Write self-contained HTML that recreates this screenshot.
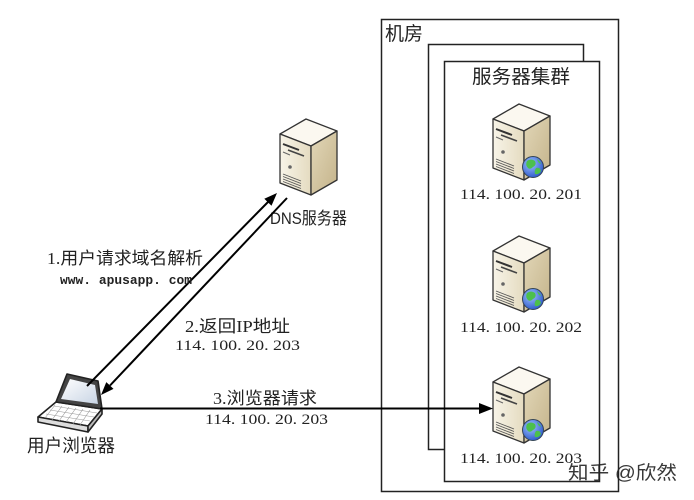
<!DOCTYPE html>
<html><head><meta charset="utf-8"><style>
html,body{margin:0;padding:0;background:#fff;}
svg{display:block;}
text{font-family:"Liberation Serif","Noto Sans CJK SC",serif;fill:#222;}
.cjk{font-family:"Liberation Sans","Noto Sans CJK SC",sans-serif;}
.mono{font-family:"Liberation Mono","Noto Sans CJK SC",monospace;}
</style></head><body>
<svg width="694" height="500" viewBox="0 0 694 500" xmlns="http://www.w3.org/2000/svg">
<defs>
<linearGradient id="gFront" x1="0" y1="0" x2="1" y2="0">
<stop offset="0" stop-color="#f8f4e8"/><stop offset="1" stop-color="#e4dbc0"/></linearGradient>
<linearGradient id="gSide" x1="0" y1="0" x2="1" y2="1">
<stop offset="0" stop-color="#e2d7b8"/><stop offset="1" stop-color="#c4b38a"/></linearGradient>
<radialGradient id="gGlobe" cx="0.4" cy="0.35" r="0.7">
<stop offset="0" stop-color="#9fc4ff"/><stop offset="1" stop-color="#2a55c8"/></radialGradient>
<linearGradient id="gScreen" x1="0" y1="0" x2="1" y2="1">
<stop offset="0" stop-color="#ffffff"/><stop offset="1" stop-color="#c8d4e4"/></linearGradient>
<g id="srv">
<polygon points="0,15 26,0 57,12 31,27" fill="#fbf8f0" stroke="#333" stroke-width="1.3" stroke-linejoin="round"/>
<polygon points="0,15 31,27 31,76 0,64" fill="url(#gFront)" stroke="#333" stroke-width="1.3" stroke-linejoin="round"/>
<polygon points="31,27 57,12 57,61 31,76" fill="url(#gSide)" stroke="#333" stroke-width="1.3" stroke-linejoin="round"/>
<line x1="3" y1="25" x2="19" y2="31" stroke="#333" stroke-width="2"/>
<line x1="8" y1="31" x2="24" y2="37" stroke="#444" stroke-width="1.6"/>
<line x1="3" y1="33" x2="10" y2="36" stroke="#666" stroke-width="1"/>
<circle cx="10" cy="48" r="1.8" fill="#666"/>
<line x1="3" y1="55" x2="21" y2="62" stroke="#555" stroke-width="0.9"/>
<line x1="3" y1="57.5" x2="21" y2="64.5" stroke="#555" stroke-width="0.9"/>
<line x1="3" y1="60" x2="21" y2="67" stroke="#555" stroke-width="0.9"/>
<line x1="3" y1="62.5" x2="21" y2="69.5" stroke="#555" stroke-width="0.9"/>
</g>
<g id="globe">
<circle cx="0" cy="0" r="10.5" fill="url(#gGlobe)" stroke="#345" stroke-width="1"/>
<path d="M-6,-6 Q-2,-9 2,-6 Q4,-2 0,0 Q-3,3 -5,1 Q-8,-2 -6,-6Z" fill="#4cc04c"/>
<path d="M3,1 Q7,0 8,4 Q6,8 2,7 Q1,4 3,1Z" fill="#4cc04c"/>
<path d="M4,-8 Q7,-6 8,-3 Q5,-4 4,-8Z" fill="#4cc04c"/>
</g>
</defs>

<rect x="381.5" y="19.5" width="237" height="472" fill="#fff" stroke="#222" stroke-width="1.5"/>
<text x="385" y="40" class="cjk" font-size="19" textLength="38" lengthAdjust="spacingAndGlyphs">机房</text>
<rect x="428.5" y="44.5" width="155" height="405" fill="#fff" stroke="#222" stroke-width="1.5"/>
<rect x="444.5" y="61.5" width="155" height="420" fill="#fff" stroke="#222" stroke-width="1.5"/>
<text x="472" y="83" class="cjk" font-size="19" textLength="98" lengthAdjust="spacingAndGlyphs">服务器集群</text>

<use href="#srv" x="493" y="104"/>
<use href="#globe" x="533" y="167"/>
<text x="460" y="199" font-size="15" fill="#333" textLength="122" lengthAdjust="spacingAndGlyphs">114. 100. 20. 201</text>

<use href="#srv" x="493" y="236"/>
<use href="#globe" x="533" y="299"/>
<text x="460" y="332" font-size="15" fill="#333" textLength="122" lengthAdjust="spacingAndGlyphs">114. 100. 20. 202</text>

<use href="#srv" x="493" y="367"/>
<use href="#globe" x="533" y="430"/>
<text x="460" y="463" font-size="15" fill="#333" textLength="122" lengthAdjust="spacingAndGlyphs">114. 100. 20. 203</text>

<use href="#srv" x="280" y="119"/>
<text x="270" y="224" font-size="17" class="cjk" textLength="77" lengthAdjust="spacingAndGlyphs">DNS服务器</text>

<g stroke="#222" stroke-width="1.6" stroke-linejoin="round">
<polygon points="38,417 56,402 102,409 88,426" fill="#fff"/>
<polygon points="38,417 88,426 88,432 38,422" fill="#ddd"/>
<polygon points="88,426 102,409 102,414 88,432" fill="#bbb"/>
<polygon points="67,374 98,381 102,409 56,402" fill="#444"/>
<polygon points="70,379 95,385 98,404 61,399" fill="url(#gScreen)" stroke="none"/>
</g>
<g stroke="#999" stroke-width="0.6">
<line x1="46" y1="414" x2="90" y2="421"/>
<line x1="50" y1="410" x2="94" y2="417"/>
<line x1="54" y1="406" x2="97" y2="413"/>
<line x1="55" y1="405" x2="45" y2="418"/>
<line x1="62" y1="406" x2="52" y2="420"/>
<line x1="69" y1="407" x2="59" y2="421"/>
<line x1="76" y1="408" x2="66" y2="422"/>
<line x1="83" y1="409" x2="73" y2="424"/>
<line x1="90" y1="410" x2="80" y2="425"/>
</g>
<text x="27" y="452" font-size="18" class="cjk" textLength="88" lengthAdjust="spacingAndGlyphs">用户浏览器</text>

<line x1="87" y1="386" x2="268" y2="202" stroke="#000" stroke-width="2"/>
<polygon points="277,193 271.5,205.8 264.3,198.8" fill="#000"/>
<line x1="287" y1="198" x2="110" y2="385.5" stroke="#000" stroke-width="2"/>
<polygon points="101,395 113.5,388.9 106.3,382.1" fill="#000"/>
<line x1="100" y1="408.5" x2="480" y2="408.5" stroke="#000" stroke-width="2"/>
<polygon points="493,408.5 479,403 479,414" fill="#000"/>

<text x="47" y="264" font-size="17" textLength="156" lengthAdjust="spacingAndGlyphs">1.用户请求域名解析</text>
<text x="60" y="284" class="mono" font-size="13" font-weight="bold" fill="#444" textLength="132" lengthAdjust="spacingAndGlyphs">www. apusapp. com</text>
<text x="185" y="332" font-size="17" textLength="105" lengthAdjust="spacingAndGlyphs">2.返回IP地址</text>
<text x="175" y="350" font-size="15" fill="#333" textLength="125" lengthAdjust="spacingAndGlyphs">114. 100. 20. 203</text>
<text x="213" y="404" font-size="17" textLength="104" lengthAdjust="spacingAndGlyphs">3.浏览器请求</text>
<text x="205" y="424" font-size="15" fill="#333" textLength="123" lengthAdjust="spacingAndGlyphs">114. 100. 20. 203</text>

<text x="568" y="479" font-size="19" class="cjk" fill="#bdbdbd" fill-opacity="0.9" textLength="109" lengthAdjust="spacingAndGlyphs">知乎 @欣然</text>
</svg>
</body></html>
